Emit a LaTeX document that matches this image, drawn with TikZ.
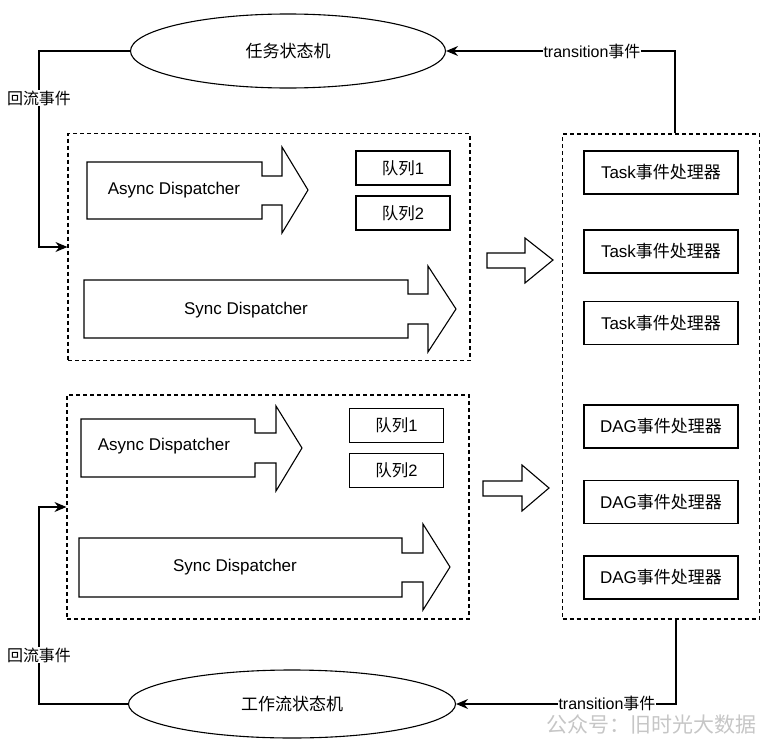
\documentclass[tikz,border=0pt]{standalone}
\usepackage{fontspec}
\setmainfont{Liberation Sans}
\newfontfamily\cjk{Noto Sans CJK SC}
\usetikzlibrary{shapes.geometric,arrows.meta,positioning}

\tikzset{
  fsm/.style={draw, ellipse, line width=1.1pt, inner sep=0pt, font=\cjk\fontsize{17}{20}\selectfont},
  group/.style={draw, dash pattern=on 4pt off 3pt, line width=1.1pt, inner sep=0pt},
  queue/.style={draw, line width=1.2pt, minimum width=94pt, minimum height=34pt, inner sep=0pt, font=\fontsize{16.5}{19}\selectfont},
  handler/.style={draw, line width=1.2pt, minimum width=154pt, minimum height=43pt, inner sep=0pt, font=\fontsize{17}{20}\selectfont},
  flow/.style={line width=1.1pt, -{Stealth[length=12pt,width=10pt,inset=4pt]}},
  elabel/.style={fill=white, inner sep=1pt, font=\fontsize{16}{19}\selectfont},
  bigarrow/.style={draw, line width=1.1pt, line join=miter},
  dtext/.style={font=\fontsize{17}{20}\selectfont},
}

\begin{document}
\begin{tikzpicture}[x=1pt,y=-1pt]
  \useasboundingbox (0,0) rectangle (769,744);

  % state machines
  \node[fsm, minimum width=315pt, minimum height=74pt] (taskfsm) at (288,51) {任务状态机};
  \node[fsm, minimum width=327pt, minimum height=68pt] (dagfsm) at (292,704) {工作流状态机};

  % dashed groups
  \node[group, minimum width=402pt, minimum height=227pt] (grpA) at (269,247) {};
  \node[group, minimum width=402pt, minimum height=224pt] (grpB) at (268,507) {};
  \node[group, minimum width=197pt, minimum height=485pt] (handlers) at (661,376.5) {};

  % dispatchers of the upper group
  \draw[bigarrow] (87,162) -- (262,162) -- (262,176) -- (282,176) -- (282,147) -- (308,190)
    -- (282,233) -- (282,205) -- (262,205) -- (262,219) -- (87,219) -- cycle;
  \node[dtext] (asyncA) at (174,190) {Async Dispatcher};
  \draw[bigarrow] (84,280) -- (408,280) -- (408,294) -- (428,294) -- (428,266) -- (456,309)
    -- (428,352) -- (428,324) -- (408,324) -- (408,338) -- (84,338) -- cycle;
  \node[dtext] (syncA) at (246,310) {Sync Dispatcher};
  \node[queue] (qA1) at (403,168) {{\cjk 队列}1};
  \node[queue] (qA2) at (403,213) {{\cjk 队列}2};

  % dispatchers of the lower group
  \draw[bigarrow] (81,419) -- (255,419) -- (255,433) -- (276,433) -- (276,406) -- (302,448)
    -- (276,491) -- (276,463) -- (255,463) -- (255,477) -- (81,477) -- cycle;
  \node[dtext] (asyncB) at (164,446) {Async Dispatcher};
  \draw[bigarrow] (79,538) -- (402,538) -- (402,553) -- (423,553) -- (423,524) -- (450,567)
    -- (423,610) -- (423,582) -- (402,582) -- (402,597) -- (79,597) -- cycle;
  \node[dtext] (syncB) at (235,567) {Sync Dispatcher};
  \node[queue] (qB1) at (396.5,425.5) {{\cjk 队列}1};
  \node[queue] (qB2) at (396.5,470.5) {{\cjk 队列}2};

  % hollow arrows into the handlers
  \draw[bigarrow] (487,253) -- (525,253) -- (525,238) -- (553,260) -- (525,283) -- (525,268) -- (487,268) -- cycle;
  \draw[bigarrow] (483,481) -- (522,481) -- (522,465) -- (549,488) -- (522,511) -- (522,496) -- (483,496) -- cycle;

  % event handlers
  \node[handler] (task1) at (661,172.5) {Task{\cjk 事件处理器}};
  \node[handler] (task2) at (661,251.5) {Task{\cjk 事件处理器}};
  \node[handler] (task3) at (661,323) {Task{\cjk 事件处理器}};
  \node[handler] (dag1) at (661,426.5) {DAG{\cjk 事件处理器}};
  \node[handler] (dag2) at (661,502) {DAG{\cjk 事件处理器}};
  \node[handler] (dag3) at (661,577.5) {DAG{\cjk 事件处理器}};

  % feedback and transition events
  \draw[flow] (taskfsm.west) -- (39,51) |- (grpA.west);
  \node[elabel] (backA) at (39,98) {\cjk 回流事件};
  \draw[flow] (dagfsm.west) -- (39,704) |- (grpB.west);
  \node[elabel] (backB) at (39,655) {\cjk 回流事件};
  \draw[flow] ([xshift=14pt]handlers.north) |- (taskfsm.east);
  \node[elabel] (transA) at (592,51) {transition{\cjk 事件}};
  \draw[flow] ([xshift=15pt]handlers.south) |- (dagfsm.east);
  \node[elabel] (transB) at (607,703) {transition{\cjk 事件}};

  \node[text=gray!45, font=\cjk\fontsize{21}{24}\selectfont] (mark) at (651,724) {公众号：旧时光大数据};
\end{tikzpicture}
\end{document}
